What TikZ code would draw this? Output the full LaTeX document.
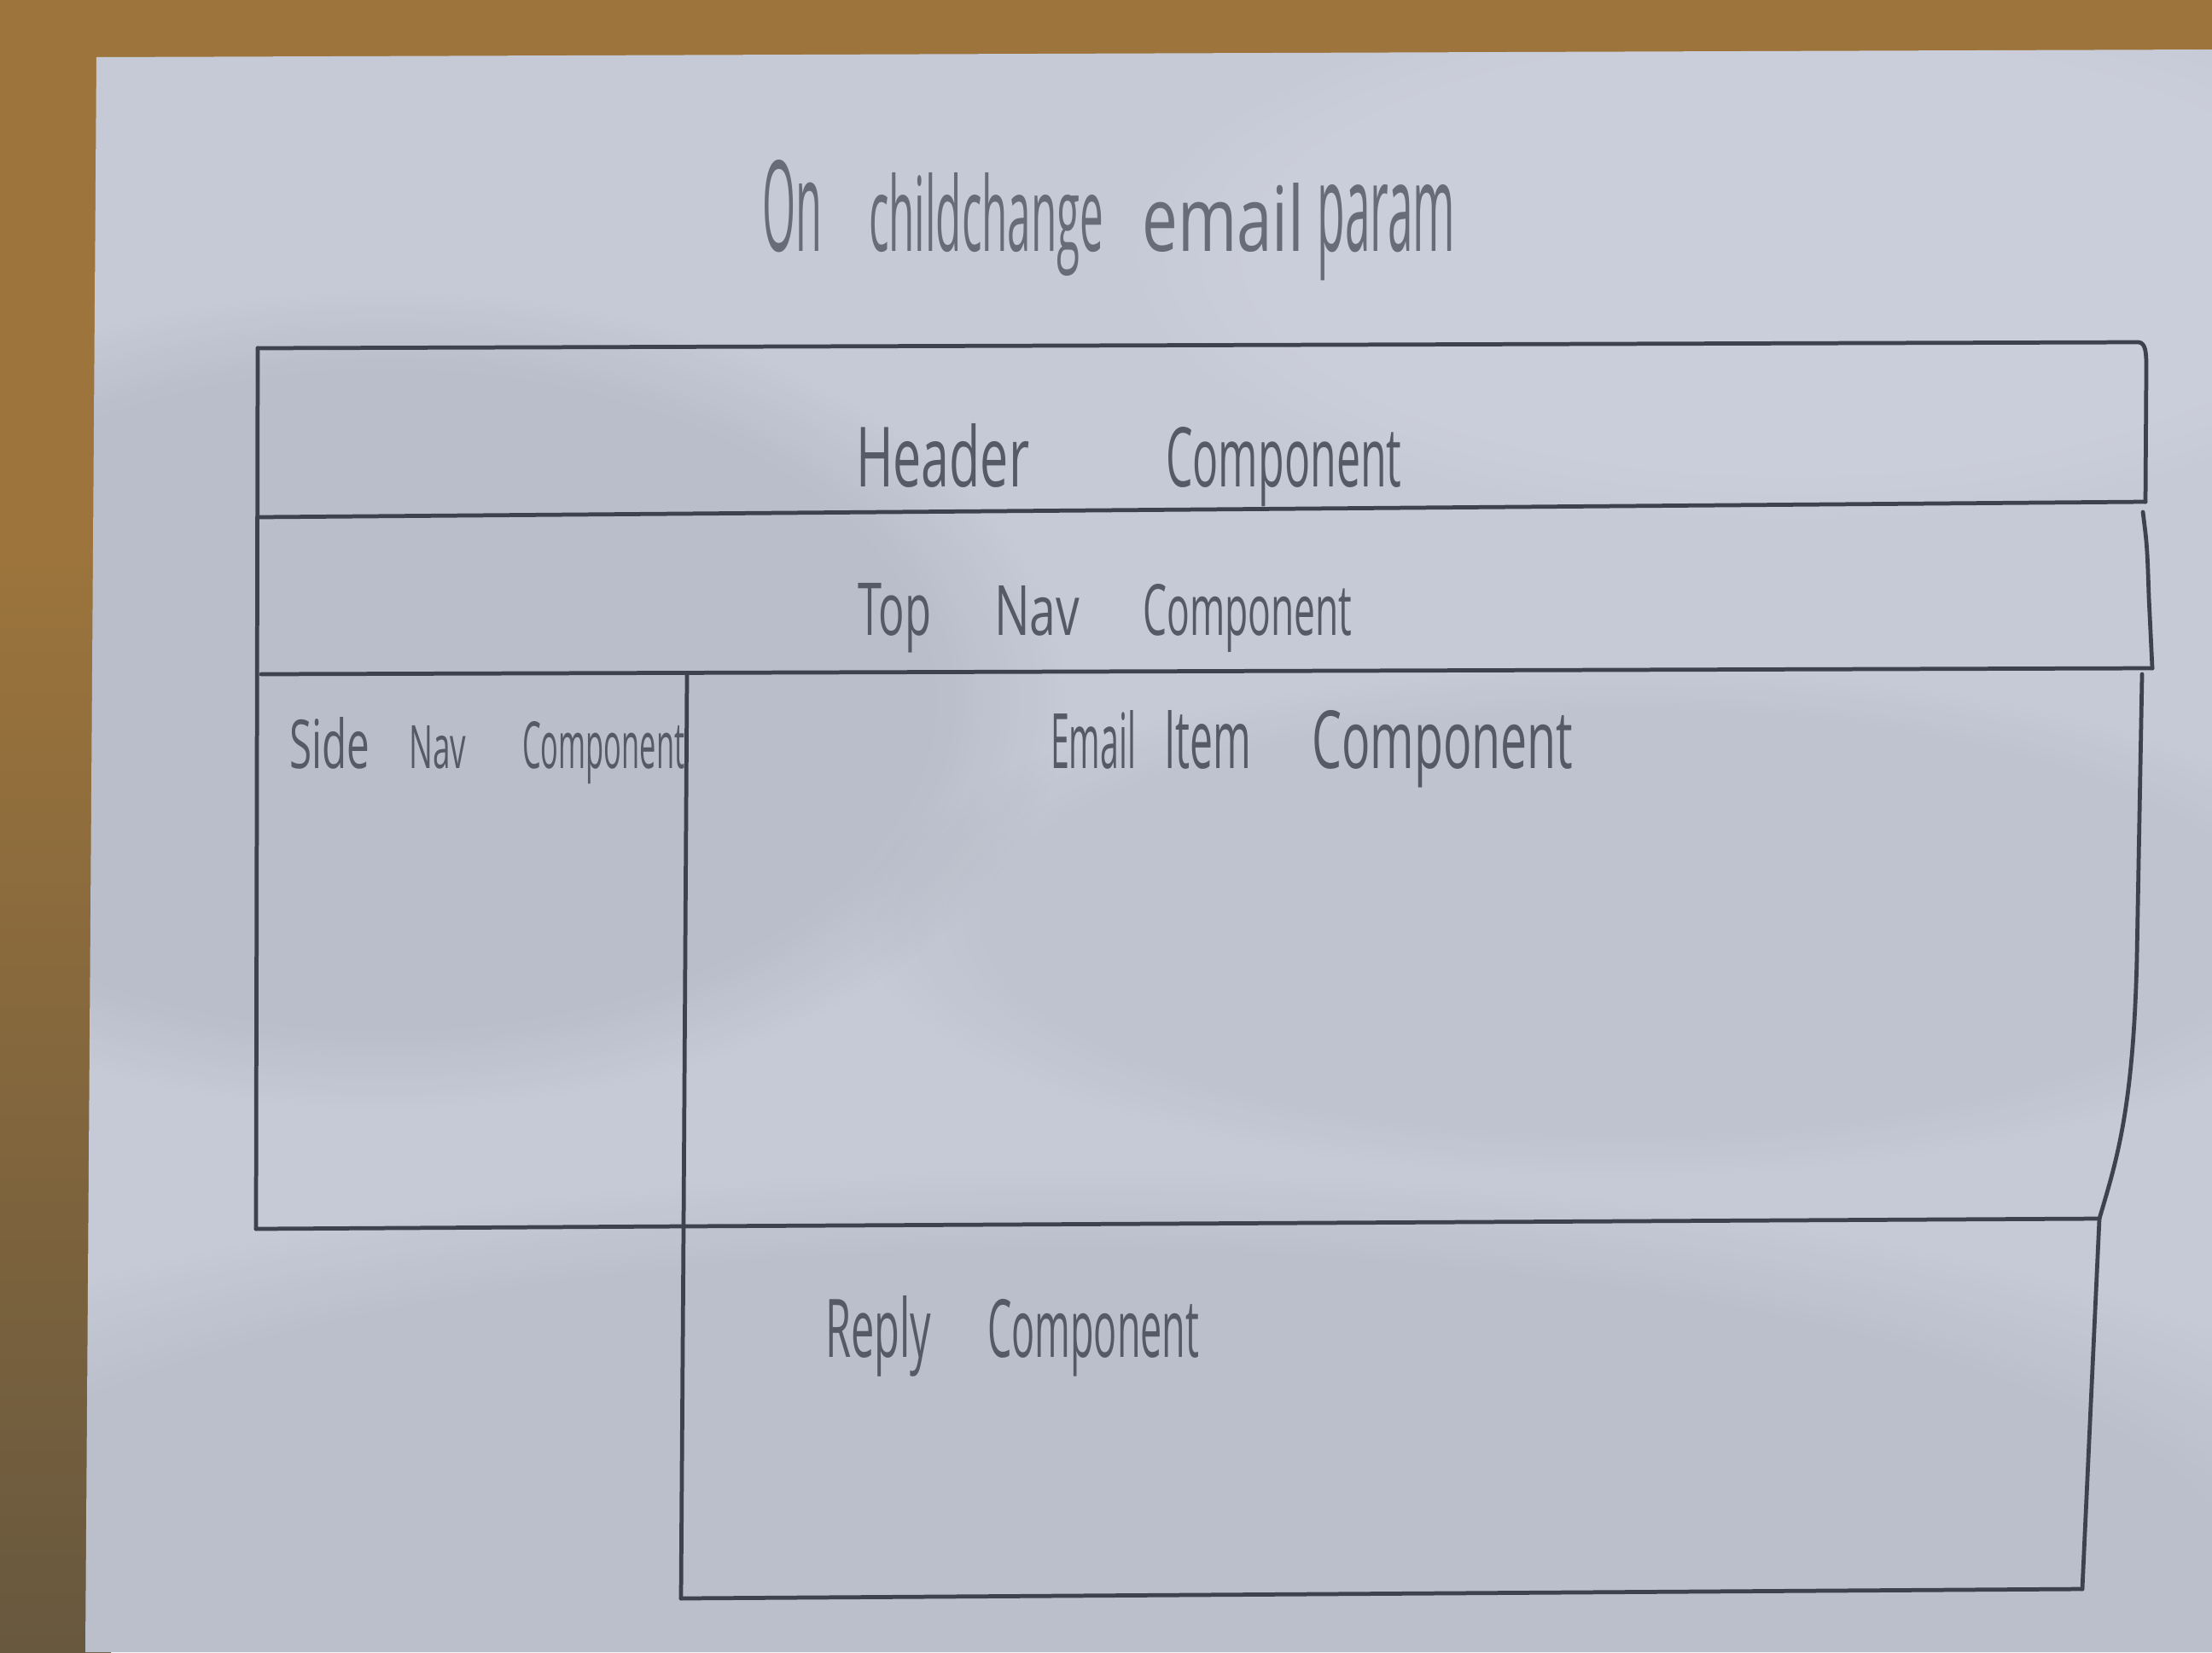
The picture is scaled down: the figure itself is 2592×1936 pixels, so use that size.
\documentclass[tikz,border=0pt]{standalone}
\usepackage{fontspec}
\usepackage{graphicx}
\usetikzlibrary{fadings}
\newfontfamily\handfont{Open Sans}

\definecolor{wood}{RGB}{156,116,60}
\definecolor{wooddark}{RGB}{104,88,62}
\definecolor{paper}{RGB}{198,202,215}
\definecolor{pencil}{RGB}{62,66,78}
\definecolor{graphite}{RGB}{86,90,102}
\definecolor{faint}{RGB}{104,108,120}

% one handwritten word squeezed to a given width and height (in cm)
\newcommand{\hw}[3]{\resizebox{#1cm}{#2cm}{#3}}

\tikzset{
  pen/.style={draw=pencil, line width=1.35pt, line join=round, line cap=round},
  hand/.style={anchor=base west, inner sep=0pt, outer sep=0pt,
               text=graphite, font=\handfont},
  shadow/.style={fill=black, path fading=circle with fuzzy edge 20 percent}
}

\begin{document}
\begin{tikzpicture}[x=0.01cm, y=-0.01cm]
\useasboundingbox (0,0) rectangle (2592,1936);

% desk
\fill[wood] (0,0) rectangle (2592,1936);
\shade[top color=wood, bottom color=wooddark] (0,650) rectangle (130,1936);

% sheet of paper
\fill[paper] (113,67) -- (2592,58) -- (2592,1936) -- (100,1936) -- cycle;
\begin{scope}
  \clip (113,67) -- (2592,58) -- (2592,1936) -- (100,1936) -- cycle;
  \fill[shadow, opacity=0.06] (450,820) ellipse [x radius=800, y radius=480];
  \fill[shadow, opacity=0.05] (1250,1850) ellipse [x radius=1700, y radius=480];
  \fill[shadow, opacity=0.035] (1900,1080) ellipse [x radius=900, y radius=300];
  \fill[white, path fading=circle with fuzzy edge 20 percent, opacity=0.08]
       (2100,300) ellipse [x radius=800, y radius=320];
\end{scope}

% header frame
\draw[pen] (302,408) -- (2506,401) .. controls (2514,402) and (2515,412) .. (2515,430) -- (2514,588);
\draw[pen] (304,606) -- (2514,588);
% top navigation frame
\draw[pen] (2511,600) .. controls (2516,640) .. (2518,700) -- (2522,783);
\draw[pen] (306,790) -- (2522,783);
% outer left edge
\draw[pen] (302,408) -- (300,1440);
% column divider and reply box left edge
\draw[pen] (805,790) -- (801,1437) -- (798,1873);
% email item right edge
\draw[pen] (2510,790) -- (2504,1120) .. controls (2500,1300) and (2480,1360) .. (2460,1428);
% side nav / email item bottom, reply top
\draw[pen] (300,1440) -- (801,1437) -- (2460,1428);
% reply box right and bottom edges
\draw[pen] (2460,1428) -- (2440,1862);
\draw[pen] (798,1873) -- (2440,1862);

% labels
\node[hand, text=faint] (title) at (893,294)
  {\hw{0.70}{1.07}{On}\hspace{0.55cm}\hw{2.75}{0.92}{childchange}\hspace{0.45cm}\hw{1.90}{0.80}{email}\hspace{0.15cm}\hw{1.62}{0.78}{param}};
\node[hand] (header) at (1003,570)
  {\hw{2.03}{0.74}{Header}\hspace{1.60cm}\hw{2.76}{0.70}{Component}};
\node[hand] (topnav) at (1005,744)
  {\hw{0.86}{0.61}{Top}\hspace{0.74cm}\hw{1.00}{0.58}{Nav}\hspace{0.74cm}\hw{2.45}{0.60}{Component}};
\node[hand] (sidenav) at (339,900)
  {\hw{0.94}{0.60}{Side}\hspace{0.46cm}\hw{0.67}{0.50}{Nav}\hspace{0.66cm}\hw{1.90}{0.55}{Component}};
\node[hand] (emailitem) at (1231,900)
  {\hw{1.00}{0.68}{Email}\hspace{0.33cm}\hw{1.02}{0.68}{Item}\hspace{0.71cm}\hw{3.06}{0.68}{Component}};
\node[hand] (reply) at (967,1590)
  {\hw{1.24}{0.72}{Reply}\hspace{0.66cm}\hw{2.48}{0.68}{Component}};
\end{tikzpicture}
\end{document}
